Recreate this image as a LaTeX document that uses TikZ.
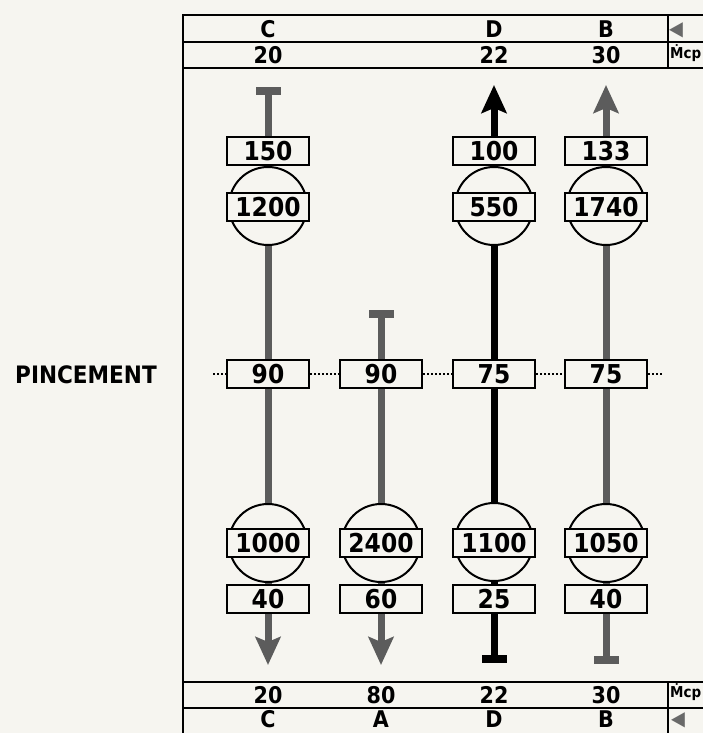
\documentclass[tikz,border=0pt]{standalone}
\usepackage{fontspec}
\setmainfont{DejaVu Sans Condensed}
\usetikzlibrary{arrows.meta}

\definecolor{paper}{RGB}{246,245,240}
\definecolor{streamgray}{RGB}{92,92,92}
\definecolor{markgray}{RGB}{105,105,105}

\begin{document}
\begin{tikzpicture}[
    x=1pt, y=-1pt,
    % Frame, boxes and streams
    frame/.style={draw=black, line width=2.5pt},
    tempbox/.style={rectangle, draw=black, line width=2.5pt, fill=paper, minimum width=82pt, minimum height=28pt, inner sep=0pt, font=\bfseries\fontsize{26}{26}\selectfont},
    exchanger/.style={circle, draw=black, line width=2pt, fill=paper, minimum size=78pt, inner sep=0pt},
    head/.style={inner sep=0pt, font=\bfseries\fontsize{23}{23}\selectfont},
    unit/.style={inner sep=0pt, anchor=west, font=\bfseries\fontsize{15}{15}\selectfont},
    marker/.style={inner sep=0pt, markgray, font=\fontsize{20}{20}\selectfont},
    stream/.style={line width=7pt, {Rectangle[length=8pt,width=25pt]}-{Stealth[length=28pt,width=25pt,inset=5pt]}},
    pinchline/.style={line width=2pt, dash pattern=on 2pt off 2pt}
]

% Page
\useasboundingbox (0,0) rectangle (703,733);
\fill[paper] (0,0) rectangle (703,733);
\clip (0,0) rectangle (703,733);

% Frame and header rows
\draw[frame] (703,15) -- (183,15) -- (183,733);
\draw[frame] (183,42) -- (703,42);
\draw[frame] (183,68) -- (703,68);
\draw[frame] (183,682) -- (703,682);
\draw[frame] (183,708) -- (703,708);
\draw[frame] (668,15) -- (668,68);
\draw[frame] (668,682) -- (668,733);

% Top header
\node[head] (topC) at (268,29) {C};
\node[head] (topD) at (494,29) {D};
\node[head] (topB) at (606,29) {B};
\node[marker] (topmark) at (676,30) {◀};
\node[head] (topmC) at (268,55) {20};
\node[head] (topmD) at (494,55) {22};
\node[head] (topmB) at (606,55) {30};
\node[unit] (topunit) at (670,53) {Ṁcp};

% Bottom header
\node[head] (botmC) at (268,695) {20};
\node[head] (botmA) at (381,695) {80};
\node[head] (botmD) at (494,695) {22};
\node[head] (botmB) at (606,695) {30};
\node[unit] (botunit) at (670,692) {Ṁcp};
\node[head] (botC) at (268,719) {C};
\node[head] (botA) at (381,719) {A};
\node[head] (botD) at (494,719) {D};
\node[head] (botB) at (606,719) {B};
\node[marker] (botmark) at (678,720) {◀};

% Pinch label
\node[font=\bfseries\fontsize{24}{24}\selectfont, inner sep=0pt] (pinchlabel) at (86,375) {PINCEMENT};

% Streams (hot: top to bottom, cold: bottom to top)
\coordinate (Cin) at (268,87);
\coordinate (Cout) at (268,665);
\coordinate (Ain) at (381,310);
\coordinate (Aout) at (381,665);
\coordinate (Din) at (494,663);
\coordinate (Dout) at (494,85);
\coordinate (Bin) at (606,664);
\coordinate (Bout) at (606,85);
\draw[stream, streamgray] (Cin) -- (Cout);
\draw[stream, streamgray] (Ain) -- (Aout);
\draw[stream, black] (Din) -- (Dout);
\draw[stream, streamgray] (Bin) -- (Bout);

% Exchangers
\node[exchanger] (xC1) at (268,206) {};
\node[exchanger] (xD1) at (494,206) {};
\node[exchanger] (xB1) at (606,206) {};
\node[exchanger] (xC2) at (268,543) {};
\node[exchanger] (xA2) at (381,543) {};
\node[exchanger] (xD2) at (494,542) {};
\node[exchanger] (xB2) at (606,543) {};

% Stream C
\node[tempbox] (tC1) at (268,151) {150};
\node[tempbox] (qC1) at (268,207) {1200};
\node[tempbox] (pC) at (268,374) {90};
\node[tempbox] (qC2) at (268,543) {1000};
\node[tempbox] (tC2) at (268,599) {40};

% Stream A
\node[tempbox] (pA) at (381,374) {90};
\node[tempbox] (qA2) at (381,543) {2400};
\node[tempbox] (tA2) at (381,599) {60};

% Stream D
\node[tempbox] (tD1) at (494,151) {100};
\node[tempbox] (qD1) at (494,207) {550};
\node[tempbox] (pD) at (494,374) {75};
\node[tempbox] (qD2) at (494,543) {1100};
\node[tempbox] (tD2) at (494,599) {25};

% Stream B
\node[tempbox] (tB1) at (606,151) {133};
\node[tempbox] (qB1) at (606,207) {1740};
\node[tempbox] (pB) at (606,374) {75};
\node[tempbox] (qB2) at (606,543) {1050};
\node[tempbox] (tB2) at (606,599) {40};

% Pinch dotted line
\coordinate (pinL) at (213,374);
\coordinate (pinR) at (663,374);
\draw[pinchline] (pinL) -- (pC);
\draw[pinchline] (pC) -- (pA);
\draw[pinchline] (pA) -- (pD);
\draw[pinchline] (pD) -- (pB);
\draw[pinchline] (pB) -- (pinR);

\end{tikzpicture}
\end{document}
